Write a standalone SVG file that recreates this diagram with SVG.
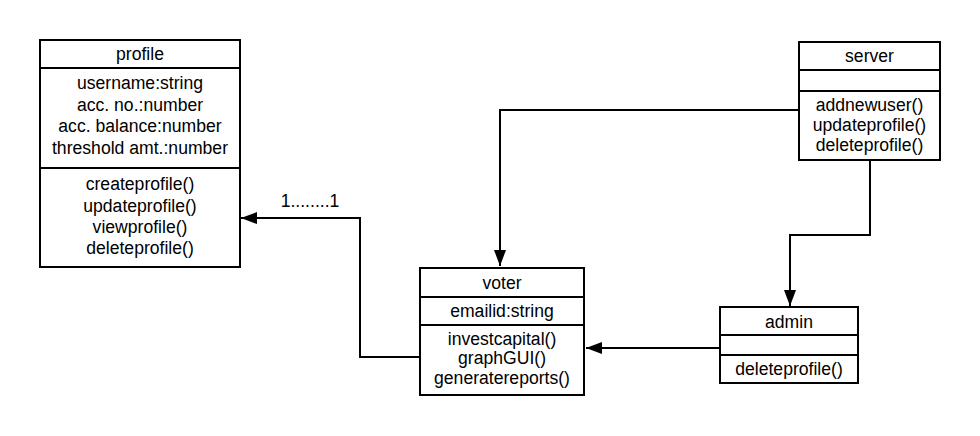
<svg xmlns="http://www.w3.org/2000/svg" width="980" height="436" viewBox="0 0 980 436">
  <style>
    .box { fill: #ffffff; stroke: #000000; stroke-width: 2; }
    .sep { stroke: #000000; stroke-width: 2; }
    .txt { font-family: "Liberation Sans", Arial, sans-serif; font-size: 17.6px; fill: #000000; text-anchor: middle; }
    .edge { fill: none; stroke: #000000; stroke-width: 2; }
  </style>
  <defs>
    <marker id="arrow" viewBox="0 0 16 12" refX="16" refY="6" markerWidth="16" markerHeight="12" markerUnits="userSpaceOnUse" orient="auto">
      <path d="M0,0 L16,6 L0,12 Z" fill="#000000"/>
    </marker>
  </defs>
  <rect width="980" height="436" fill="#ffffff"/>

  <g id="connectors">
    <path class="edge" d="M799,110 H500 V266" marker-end="url(#arrow)"/>
    <path class="edge" d="M870,160 V235 H790 V306" marker-end="url(#arrow)"/>
    <path class="edge" d="M720,348 H586" marker-end="url(#arrow)"/>
    <path class="edge" d="M420,357 H360 V218 H241" marker-end="url(#arrow)"/>
    <text class="txt" x="310" y="207">1........1</text>
  </g>

  <g id="profile">
    <rect class="box" x="40" y="40" width="200" height="227"/>
    <line class="sep" x1="40" y1="68" x2="240" y2="68"/>
    <line class="sep" x1="40" y1="168" x2="240" y2="168"/>
    <text class="txt" x="140" y="60">profile</text>
    <text class="txt" x="140" y="89">username:string</text>
    <text class="txt" x="140" y="111">acc. no.:number</text>
    <text class="txt" x="140" y="132">acc. balance:number</text>
    <text class="txt" x="140" y="154">threshold amt.:number</text>
    <text class="txt" x="140" y="190">createprofile()</text>
    <text class="txt" x="140" y="212">updateprofile()</text>
    <text class="txt" x="140" y="233">viewprofile()</text>
    <text class="txt" x="140" y="254">deleteprofile()</text>
  </g>

  <g id="server">
    <rect class="box" x="799" y="42" width="141" height="118"/>
    <line class="sep" x1="799" y1="70" x2="940" y2="70"/>
    <line class="sep" x1="799" y1="91" x2="940" y2="91"/>
    <text class="txt" x="869.5" y="62">server</text>
    <text class="txt" x="869.5" y="111">addnewuser()</text>
    <text class="txt" x="869.5" y="131">updateprofile()</text>
    <text class="txt" x="869.5" y="151">deleteprofile()</text>
  </g>

  <g id="voter">
    <rect class="box" x="420" y="268" width="164" height="127"/>
    <line class="sep" x1="420" y1="297" x2="584" y2="297"/>
    <line class="sep" x1="420" y1="325" x2="584" y2="325"/>
    <text class="txt" x="502" y="289">voter</text>
    <text class="txt" x="502" y="317">emailid:string</text>
    <text class="txt" x="502" y="345">investcapital()</text>
    <text class="txt" x="502" y="364">graphGUI()</text>
    <text class="txt" x="502" y="384">generatereports()</text>
  </g>

  <g id="admin">
    <rect class="box" x="720" y="307" width="138" height="76"/>
    <line class="sep" x1="720" y1="335" x2="858" y2="335"/>
    <line class="sep" x1="720" y1="355" x2="858" y2="355"/>
    <text class="txt" x="789" y="328">admin</text>
    <text class="txt" x="789" y="375">deleteprofile()</text>
  </g>
</svg>
